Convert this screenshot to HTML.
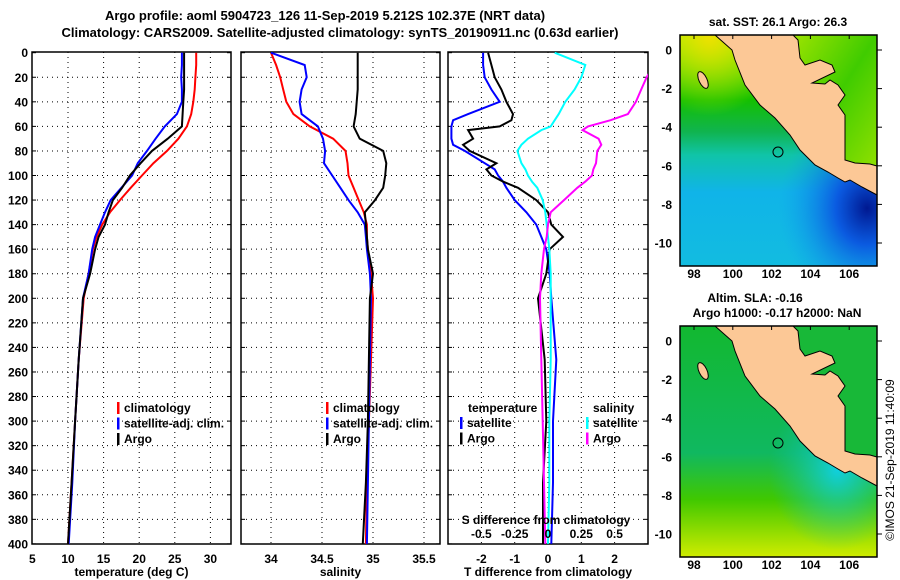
<!DOCTYPE html>
<html><head><meta charset="utf-8"><style>
body{margin:0;background:#fff;}
svg{display:block;font-family:"Liberation Sans",sans-serif;font-weight:bold;}
</style></head><body>
<svg id="fig" width="900" height="580" viewBox="0 0 900 580" xmlns="http://www.w3.org/2000/svg">
<defs>
<clipPath id="c1"><rect x="32" y="52" width="199" height="492"/></clipPath>
<clipPath id="c2"><rect x="241" y="52" width="199" height="492"/></clipPath>
<clipPath id="c3"><rect x="448" y="52" width="200" height="492"/></clipPath>
<linearGradient id="sstV" x1="0" y1="0" x2="0" y2="1">
<stop offset="0" stop-color="#b8ec00"/><stop offset="0.12" stop-color="#70dc00"/><stop offset="0.28" stop-color="#14c000"/><stop offset="0.42" stop-color="#10b450"/><stop offset="0.52" stop-color="#10c4a8"/><stop offset="0.68" stop-color="#10b4e8"/><stop offset="1" stop-color="#12bce0"/></linearGradient>
<radialGradient id="sstY" cx="0.15" cy="0" r="0.35"><stop offset="0" stop-color="#f0e000"/><stop offset="1" stop-color="#c0ec00" stop-opacity="0"/></radialGradient>
<radialGradient id="sstB" cx="0.95" cy="0.75" r="0.45"><stop offset="0" stop-color="#001890"/><stop offset="0.35" stop-color="#0a50e0" stop-opacity="0.9"/><stop offset="1" stop-color="#10a0f0" stop-opacity="0"/></radialGradient>
<linearGradient id="neSea" x1="0" y1="0" x2="1" y2="1"><stop offset="0" stop-color="#a0e400"/><stop offset="0.5" stop-color="#40cc00"/><stop offset="1" stop-color="#90e000"/></linearGradient>
<linearGradient id="slaV" x1="0" y1="0" x2="0" y2="1"><stop offset="0" stop-color="#12b830"/><stop offset="0.55" stop-color="#10b860"/><stop offset="0.75" stop-color="#40c800"/><stop offset="1" stop-color="#d0ec00"/></linearGradient>
<radialGradient id="slaC" cx="0.8" cy="0.62" r="0.35"><stop offset="0" stop-color="#10d0e0"/><stop offset="1" stop-color="#10c0a0" stop-opacity="0"/></radialGradient>
</defs>
<text x="325" y="20" font-size="13" text-anchor="middle">Argo profile: aoml 5904723_126 11-Sep-2019 5.212S 102.37E (NRT data)</text>
<text x="340" y="37" font-size="13" text-anchor="middle">Climatology: CARS2009. Satellite-adjusted climatology: synTS_20190911.nc (0.63d earlier)</text>
<g id="plots"></g>
<g id="maps"></g>
<text transform="translate(894,460) rotate(-90)" font-size="12" font-weight="normal" text-anchor="middle">©IMOS 21-Sep-2019 11:40:09</text>
</svg>
<script>
const depths=[0,10,20,30,40,50,60,70,80,90,100,110,120,130,140,150,160,180,200,250,300,350,400];
const argoT=[26.3,26.3,26.3,26.3,26.2,26.1,26.0,24.0,21.8,20.2,18.7,17.6,16.3,15.7,15.2,14.3,13.8,13.1,12.1,11.5,11.0,10.5,10.0];
const climT=[28.0,28.0,27.9,27.8,27.6,27.3,26.7,25.5,23.9,22.0,20.4,18.8,17.3,15.9,14.8,14.0,13.5,12.9,12.2,11.5,11.0,10.5,10.0];
const satT=[26.0,26.0,25.9,26.0,26.0,25.3,23.6,22.3,21.1,19.8,19.0,17.5,16.0,15.2,14.5,13.8,13.4,12.9,12.1,11.5,11.0,10.6,10.1];
const argoS=[34.85,34.85,34.85,34.85,34.84,34.83,34.81,34.87,35.10,35.13,35.12,35.10,35.02,34.92,34.93,34.94,34.95,35.00,34.97,34.96,34.95,34.93,34.90];
const climS=[34.00,34.05,34.09,34.12,34.15,34.22,34.38,34.61,34.73,34.75,34.76,34.81,34.86,34.91,34.94,34.94,34.95,34.98,35.00,34.98,34.96,34.94,34.93];
const satS=[34.00,34.33,34.35,34.30,34.28,34.30,34.46,34.51,34.53,34.52,34.60,34.68,34.76,34.85,34.92,34.93,34.94,34.97,34.98,34.97,34.96,34.95,34.94];
const diffDepths=[0,10,20,30,40,50,55,60,63,70,75,80,90,95,100,105,110,120,130,140,150,160,180,200,250,300,350,400];
const argoTdiff=[-1.8,-1.7,-1.6,-1.4,-1.25,-1.05,-1.1,-1.45,-2.4,-2.25,-2.55,-2.35,-1.55,-1.85,-1.7,-1.35,-0.9,-0.35,0.0,0.1,0.45,0.05,-0.05,-0.3,-0.1,-0.05,-0.15,-0.15];
const satTdiff=[-1.95,-1.95,-1.9,-1.7,-1.45,-2.4,-2.85,-2.9,-2.9,-2.9,-2.85,-2.5,-1.9,-1.6,-1.5,-1.35,-1.25,-1.0,-0.65,-0.35,-0.2,-0.05,0.05,0.1,0.25,0.15,0.15,0.1];
const satSdiff=[0.05,0.28,0.25,0.2,0.13,0.08,0.05,0.02,-0.05,-0.15,-0.2,-0.23,-0.2,-0.17,-0.15,-0.12,-0.08,-0.04,-0.02,-0.01,0.0,0.01,0.02,0.02,0.02,0.01,0.01,0.0];
const argoSdiff=[0.85,0.8,0.74,0.7,0.66,0.6,0.47,0.3,0.26,0.38,0.40,0.37,0.36,0.34,0.33,0.28,0.22,0.12,0.02,0.0,-0.01,-0.03,-0.05,-0.06,-0.05,-0.04,-0.03,-0.02];
const depthTicks=[0,20,40,60,80,100,120,140,160,180,200,220,240,260,280,300,320,340,360,380,400];
const tempTicks=[5,10,15,20,25,30,35];
const salTicks=[34,34.5,35,35.5];
const tdiffTicks=[-2,-1,0,1,2];
const tdiffLabels=["-2","-1","0","1","2"];
const sdiffTicks=[-0.5,-0.25,0,0.25,0.5];
const sdiffLabels=["-0.5","-0.25","0","0.25","0.5"];
const lonTicks=[98,100,102,104,106];
const latTicks=[0,-2,-4,-6,-8,-10];

const NS="http://www.w3.org/2000/svg";
function mk(tag,attrs,parent){const e=document.createElementNS(NS,tag);for(const k in attrs)e.setAttribute(k,attrs[k]);parent.appendChild(e);return e;}
const plots=document.getElementById('plots');
const yD=d=>52.7+d*1.228;
const xTemp=v=>32.4+(v-5)*7.12;
const xSal=v=>271+(v-34)*102;
const xTd=v=>548+v*33.3;
const xSd=v=>548+v*133.2;

function panel(name,x0,w,xf,ticks,labels,xlabel,clip){
  const g=mk('g',{},plots);
  
  
  ticks.forEach(t=>{const x=xf(t);if(x>x0+1&&x<x0+w-1){const l=mk('line',{x1:x,x2:x,y1:52,y2:544,stroke:'#000','stroke-width':1,'stroke-dasharray':'1,4'},g);}});
  depthTicks.forEach(d=>{const y=yD(d);if(d>0&&d<400){const l=mk('line',{x1:x0,x2:x0+w,y1:y,y2:y,stroke:'#000','stroke-width':1,'stroke-dasharray':'1,4'},g);}
    const tk=mk('line',{x1:x0,x2:x0+4,y1:y,y2:y,stroke:'#000'},g);
    const tk2=mk('line',{x1:x0+w-4,x2:x0+w,y1:y,y2:y,stroke:'#000'},g);});
  const r=mk('rect',{x:x0,y:52,width:w,height:492,fill:'none',stroke:'#000','stroke-width':1.5},g);
  
  if(labels){ticks.forEach((t,i)=>{const x=xf(t);if(x<x0+w+5){const tx=mk('text',{x:x,y:563,'font-size':12,'text-anchor':'middle'},g);tx.textContent=labels[i];}});}
  const xl=mk('text',{x:x0+w/2,y:576,'font-size':12,'text-anchor':'middle'},g);xl.textContent=xlabel;
  
  const sg=mk('g',{'clip-path':'url(#'+clip+')'},g);
  
  return sg;
}
function line(g,xf,ds,vals,color,name){
  const p=ds.map((d,i)=>xf(vals[i]).toFixed(1)+','+yD(d).toFixed(1)).join(' ');
  const pl=mk('polyline',{points:p,fill:'none',stroke:color,'stroke-width':2},g);
  
  
}
depthTicks.forEach(d=>{const t=mk('text',{x:28,y:yD(d)+4.5,'font-size':12,'text-anchor':'end'},plots);t.textContent=d;});

const g1=panel('temperature-panel',32,199,xTemp,tempTicks,tempTicks.map(String),'temperature (deg C)','c1');
line(g1,xTemp,depths,climT,'#f00','climatology-temp-line');
line(g1,xTemp,depths,satT,'#00f','satellite-temp-line');
line(g1,xTemp,depths,argoT,'#000','argo-temp-line');
const g2=panel('salinity-panel',241,199,xSal,salTicks,salTicks.map(String),'salinity','c2');
line(g2,xSal,depths,climS,'#f00','climatology-sal-line');
line(g2,xSal,depths,satS,'#00f','satellite-sal-line');
line(g2,xSal,depths,argoS,'#000','argo-sal-line');
const g3=panel('difference-panel',448,200,xTd,tdiffTicks,tdiffLabels,'T difference from climatology','c3');
line(g3,xTd,diffDepths,satTdiff,'#00f','satellite-tdiff-line');
line(g3,xTd,diffDepths,argoTdiff,'#000','argo-tdiff-line');
line(g3,xSd,diffDepths,satSdiff,'#0ff','satellite-sdiff-line');
line(g3,xSd,diffDepths,argoSdiff,'#f0f','argo-sdiff-line');
sdiffTicks.forEach((t,i)=>{const tx=mk('text',{x:xSd(t),y:538,'font-size':12,'text-anchor':'middle'},plots);tx.textContent=sdiffLabels[i];});
{const t=mk('text',{x:546,y:524,'font-size':12,'text-anchor':'middle'},plots);t.textContent='S difference from climatology';}

function legend(x,y,items){items.forEach((it,i)=>{const yy=y+i*15.5;
  if(it[1]){const m=mk('rect',{x:x,y:yy-10,width:2.5,height:12,fill:it[1]},plots);}
  const t=mk('text',{x:x+(it[1]?7:0),y:yy,'font-size':12},plots);t.textContent=it[0];});}
legend(117,412,[['climatology','#f00'],['satellite-adj. clim.','#00f'],['Argo','#000']]);
legend(326,412,[['climatology','#f00'],['satellite-adj. clim.','#00f'],['Argo','#000']]);
legend(468,412,[['temperature',null]]);legend(460,427,[['satellite','#00f'],['Argo','#000']]);
legend(593,412,[['salinity',null]]);legend(586,427,[['satellite','#0ff'],['Argo','#f0f']]);

const maps=document.getElementById('maps');
const land=[[715,35],[732,50],[735,60],[745,85],[760,105],[775,118],[790,135],[800,150],[807,157],[815,165],[828,172],[838,178],[845,182],[850,180],[862,187],[877,195],[877,166],[870,164],[855,163],[845,160],[845,115],[838,105],[845,95],[838,85],[830,80],[825,84],[812,83],[835,72],[832,65],[820,60],[805,65],[800,58],[798,40],[793,35]];
function map(oy,fills,ne,name,titles){
  const g=mk('g',{},maps);
  fills.forEach(f=>mk('rect',{x:680,y:35+oy,width:197,height:231,fill:f},g));
  const nes=mk('polygon',{points:[[790,35],[877,35],[877,168],[840,168],[830,110],[800,80]].map(p=>p[0]+','+(p[1]+oy)).join(' '),fill:ne},g);
  
  const pts=land.map(p=>p[0]+','+(p[1]+oy)).join(' ');
  const l=mk('polygon',{points:pts,fill:'#fcc896',stroke:'#000','stroke-width':1},g);
  const isl=mk('ellipse',{cx:703,cy:80+oy,rx:4,ry:9,fill:'#fcc896',stroke:'#000',transform:'rotate(-25 703 '+(80+oy)+')'},g);
  const c=mk('circle',{cx:778,cy:152+oy,r:5,fill:'none',stroke:'#000'},g);
  mk('rect',{x:680,y:35+oy,width:197,height:231,fill:'none',stroke:'#000','stroke-width':1.5},g);
  lonTicks.forEach(t=>{const x=694+(t-98)*19.4;const tx=mk('text',{x:x,y:278+oy,'font-size':12,'text-anchor':'middle'},g);tx.textContent=t;mk('line',{x1:x,x2:x,y1:35+oy,y2:39+oy,stroke:'#000'},g);});
  latTicks.forEach(t=>{const y=50-t*19.3+oy;const tx=mk('text',{x:672,y:y+4.5,'font-size':12,'text-anchor':'end'},g);tx.textContent=t;mk('line',{x1:877,x2:882,y1:y,y2:y,stroke:'#000'},g);});
  titles.forEach(tt=>{const tx=mk('text',{x:tt[1],y:tt[2],'font-size':12,'text-anchor':'middle'},g);tx.textContent=tt[0];});
}
map(0,['url(#sstV)','url(#sstY)','url(#sstB)'],'url(#neSea)','sst-map',[['sat. SST: 26.1 Argo: 26.3',778,26]]);
map(291,['url(#slaV)','url(#slaC)'],'#18b838','sla-map',[['Altim. SLA: -0.16',755,302],['Argo h1000: -0.17 h2000: NaN',777,317]]);
</script>
</body></html>
